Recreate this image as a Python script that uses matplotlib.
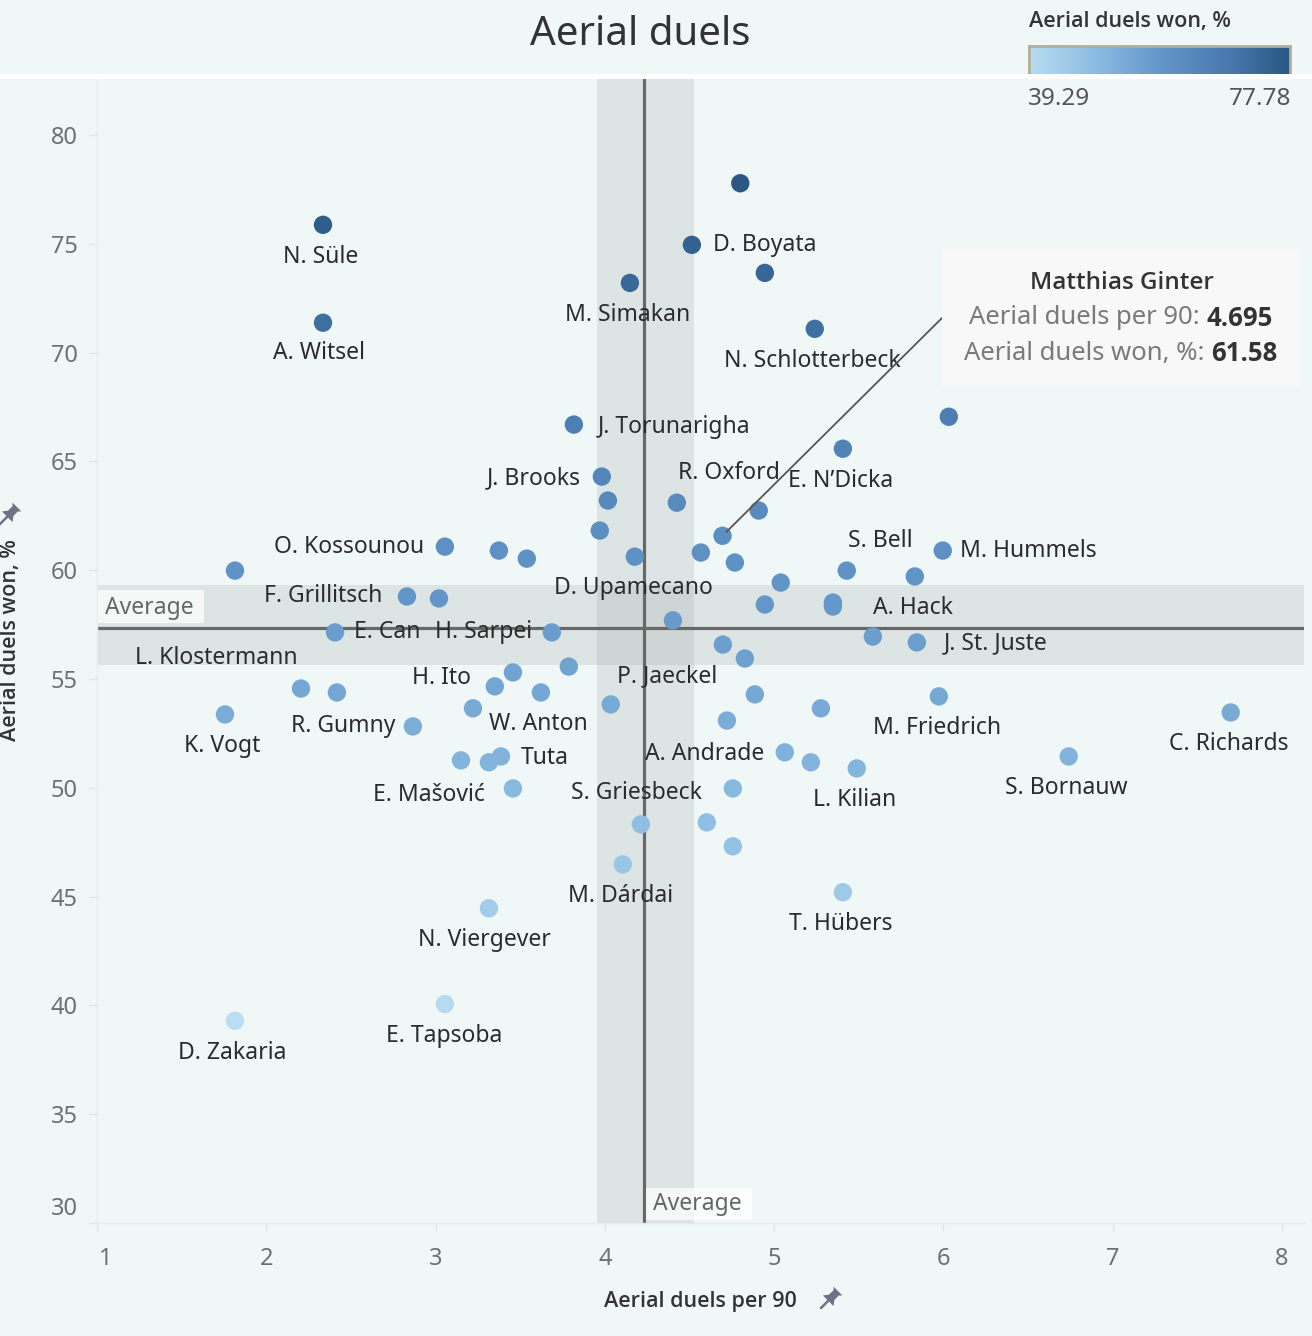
import matplotlib
matplotlib.use('Agg')
import matplotlib.pyplot as plt
import numpy as np
from matplotlib.colors import LinearSegmentedColormap, Normalize
from matplotlib.patches import Rectangle, Polygon
from matplotlib.transforms import ScaledTranslation

# ---------------- data ----------------
players = ['', 'N. Süle', 'D. Boyata', '', 'M. Simakan', 'A. Witsel', 'N. Schlotterbeck', '',
           'J. Torunarigha', 'E. N’Dicka', 'J. Brooks', '', '', 'R. Oxford', '', '',
           'O. Kossounou', '', '', 'D. Upamecano', '', 'M. Hummels', 'S. Bell', '', '', '', '',
           'F. Grillitsch', '', '', '', 'A. Hack', '', 'E. Can', 'H. Sarpei', '', 'J. St. Juste',
           '', '', '', '', 'H. Ito', 'L. Klostermann', '', 'W. Anton', '', 'M. Friedrich',
           'K. Vogt', 'P. Jaeckel', '', '', 'C. Richards', '', 'R. Gumny', 'A. Andrade',
           'S. Bornauw', 'Tuta', '', '', '', 'L. Kilian', '', 'E. Mašović', 'S. Griesbeck',
           '', '', 'M. Dárdai', 'T. Hübers', 'N. Viergever', 'E. Tapsoba', 'D. Zakaria']
duels_per90 = [4.80, 2.335, 4.514, 4.945, 4.148, 2.335, 5.240, 6.032,
               3.817, 5.406, 3.982, 4.018, 4.425, 4.909, 3.970, 4.695,
               3.055, 3.374, 3.539, 4.177, 4.567, 5.996, 5.429, 4.768, 1.815, 5.039, 5.831,
               2.831, 3.020, 4.402, 4.945, 5.347, 5.347, 2.406, 3.687, 5.583, 5.843,
               4.697, 4.827, 3.787, 3.457, 3.350, 2.205, 2.417, 3.622, 4.886, 5.973,
               1.756, 4.035, 3.221, 5.276, 7.697, 4.721, 2.866, 5.063,
               6.740, 3.386, 3.150, 3.315, 5.217, 5.488, 4.756, 3.457, 4.213,
               4.602, 4.756, 4.106, 5.406, 3.315, 3.055, 1.815]
duels_won_pct = [77.78, 75.87, 74.95, 73.66, 73.20, 71.37, 71.09, 67.05,
                 66.69, 65.58, 64.30, 63.20, 63.10, 62.74, 61.82, 61.58,
                 61.08, 60.90, 60.53, 60.62, 60.81, 60.90, 59.98, 60.35, 59.98, 59.43, 59.71,
                 58.79, 58.70, 57.69, 58.42, 58.51, 58.33, 57.14, 57.14, 56.95, 56.68,
                 56.58, 55.94, 55.57, 55.30, 54.66, 54.56, 54.38, 54.38, 54.29, 54.20,
                 53.37, 53.83, 53.65, 53.65, 53.46, 53.09, 52.82, 51.63,
                 51.44, 51.44, 51.26, 51.17, 51.17, 50.89, 49.97, 49.97, 48.32,
                 48.41, 47.31, 46.48, 45.20, 44.46, 40.06, 39.29]

avg_per90 = 4.23
avg_per90_band = (3.953, 4.526)
avg_won = 57.36
avg_won_band = (55.62, 59.34)

color_min, color_max = 39.29, 77.78
xticks = [1, 2, 3, 4, 5, 6, 7, 8]
yticks = [30, 35, 40, 45, 50, 55, 60, 65, 70, 75, 80]

tooltip_name = 'Matthias Ginter'
tooltip_x = 4.695
tooltip_y = 61.58

# label offsets (pixels, style only)
label_offsets = {
    'N. Süle': (-2, -32), 'D. Boyata': (73, 0), 'M. Simakan': (-2, -32), 'A. Witsel': (-4, -30),
    'N. Schlotterbeck': (-2, -32), 'J. Torunarigha': (100, -2), 'E. N’Dicka': (-2, -32),
    'J. Brooks': (-68, -2), 'R. Oxford': (-30, 38), 'O. Kossounou': (-96, 0),
    'D. Upamecano': (-1, -31), 'M. Hummels': (86, 0), 'S. Bell': (34, 30),
    'F. Grillitsch': (-84, 0), 'A. Hack': (80, -5), 'E. Can': (52, 0), 'H. Sarpei': (-68, 0),
    'J. St. Juste': (79, -1), 'H. Ito': (-53, 8), 'L. Klostermann': (-85, 31),
    'W. Anton': (-2, -32), 'M. Friedrich': (-2, -32), 'K. Vogt': (-3, -32),
    'P. Jaeckel': (56, 28), 'C. Richards': (-2, -32), 'R. Gumny': (-70, 0),
    'A. Andrade': (-80, -2), 'S. Bornauw': (-2, -32), 'Tuta': (44, -2), 'L. Kilian': (-2, -32),
    'E. Mašović': (-84, -7), 'S. Griesbeck': (-4, 31), 'M. Dárdai': (-2, -32),
    'T. Hübers': (-2, -32), 'N. Viergever': (-4, -32), 'E. Tapsoba': (-1, -32),
    'D. Zakaria': (-3, -32),
}

# ---------------- style ----------------
W, H = 1312, 1336
BG = '#f0f8f7'
FONT = ['Noto Sans', 'DejaVu Sans']
BOLD = ['Open Sans', 'Roboto', 'DejaVu Sans']
plt.rcParams['font.family'] = FONT

cmap = LinearSegmentedColormap.from_list(
    'tab_blue', ['#b9ddf1', '#8dbde2', '#6497c9', '#4a7bb0', '#2a5783'])
norm = Normalize(color_min, color_max)

fig = plt.figure(figsize=(W / 100, H / 100), dpi=100, facecolor=BG)


def fx(px):
    return px / W


def fy(py):
    return 1 - py / H


ax_l, ax_r, ax_t, ax_b = 97, 1304, 79, 1223
ax = fig.add_axes([fx(ax_l), fy(ax_b), (ax_r - ax_l) / W, (ax_b - ax_t) / H])
ax.set_facecolor(BG)
ax.set_xlim(1.0, 8.13)
ax.set_ylim(30, 82.57)

# reference bands and lines
band_kw = dict(color='#8c9694', alpha=0.19, lw=0, zorder=0)
ax.axvspan(*avg_per90_band, **band_kw)
ax.axhspan(*avg_won_band, **band_kw)
ax.axvline(avg_per90, color='#686868', lw=2.3, zorder=1)
ax.axhline(avg_won, color='#686868', lw=2.3, zorder=1)

# points
ax.scatter(duels_per90, duels_won_pct, c=duels_won_pct, cmap=cmap, norm=norm,
           s=175, linewidths=0, zorder=3)

for name, xv, yv in zip(players, duels_per90, duels_won_pct):
    if not name:
        continue
    dx, dy = label_offsets.get(name, (0, -32))
    ax.annotate(name, (xv, yv), xytext=(dx, dy), textcoords='offset pixels',
                ha='center', va='center', fontsize=16.5, color='#2b2b2b', zorder=4)

# axes styling
for side in ['top', 'right']:
    ax.spines[side].set_visible(False)
for side in ['left', 'bottom']:
    ax.spines[side].set_color('#e6ecec')
    ax.spines[side].set_linewidth(1)
ax.set_xticks(xticks)
ax.set_yticks(yticks)
ax.tick_params(axis='both', colors='#e2e6e6', length=6, width=1, labelsize=17,
               labelcolor='#707070')
ax.tick_params(axis='x', pad=11)
ax.tick_params(axis='y', pad=8)
fig.canvas.draw()
for lab in ax.get_yticklabels():
    if lab.get_text() == '30':
        lab.set_transform(lab.get_transform() + ScaledTranslation(0, 0.17, fig.dpi_scale_trans))
for lab in ax.get_xticklabels():
    if lab.get_text() == '1':
        lab.set_transform(lab.get_transform() + ScaledTranslation(0.09, 0, fig.dpi_scale_trans))

# axis titles
fig.text(fx(700), fy(1301), 'Aerial duels per 90', ha='center', va='center',
         fontsize=15.5, fontweight='semibold', color='#333333', family=BOLD)
fig.text(fx(11), fy(640), 'Aerial duels won, %', ha='center', va='center', rotation=90,
         fontsize=15.5, fontweight='semibold', color='#333333', family=BOLD)


def pin(cx, cy, size=1.0):
    pts = [(-6, -2), (6, -2), (3, 2), (3, 7), (5, 9), (-5, 9), (-3, 7), (-3, 2)]
    ang = np.deg2rad(-45)
    ca, sa = np.cos(ang), np.sin(ang)

    def tr(p):
        x, y = p[0] * size, p[1] * size
        return (fx(cx + x * ca - y * sa), 1 - (cy - (x * sa + y * ca)) / H)
    fig.patches.append(Polygon([tr(p) for p in pts], closed=True, transform=fig.transFigure,
                               facecolor='#6b7384', edgecolor='none'))
    a, b = tr((0, -2)), tr((0, -10))
    fig.add_artist(plt.Line2D([a[0], b[0]], [a[1], b[1]], transform=fig.transFigure,
                              color='#6b7384', lw=1.8))


pin(830, 1299, 1.25)
pin(9, 515, 1.25)

# title area
fig.text(fx(640), fy(35), 'Aerial duels', ha='center', va='center', fontsize=29,
         color='#333333', fontweight='light')
fig.add_artist(Rectangle((0, fy(79)), 1, 5 / H, transform=fig.transFigure,
                         facecolor='white', edgecolor='none', zorder=1))

# color legend
fig.text(fx(1130), fy(21), 'Aerial duels won, %', ha='center', va='center',
         fontsize=15.5, fontweight='semibold', color='#333333', family=BOLD)
cax = fig.add_axes([fx(1029), fy(75), (1290 - 1029) / W, (75 - 46) / H])
cax.imshow(np.linspace(0, 1, 256).reshape(1, -1), aspect='auto', cmap=cmap,
           extent=(0, 1, 0, 1))
cax.set_xticks([])
cax.set_yticks([])
for s in cax.spines.values():
    s.set_color('#b3ad9d')
    s.set_linewidth(2)
fig.text(fx(1028), fy(99), f'{color_min:.2f}', ha='left', va='center', fontsize=17.5,
         color='#555555')
fig.text(fx(1291), fy(99), f'{color_max:.2f}', ha='right', va='center', fontsize=17.5,
         color='#555555')

# "Average" labels
fig.add_artist(Rectangle((fx(98), fy(623)), 106 / W, 33 / H, transform=fig.transFigure,
                         facecolor='white', alpha=0.75, edgecolor='none'))
fig.text(fx(149), fy(608), 'Average', ha='center', va='center', fontsize=16.5, color='#666666')
fig.add_artist(Rectangle((fx(646), fy(1220)), 106 / W, 32 / H, transform=fig.transFigure,
                         facecolor='white', alpha=0.75, edgecolor='none'))
fig.text(fx(697), fy(1204), 'Average', ha='center', va='center', fontsize=16.5, color='#666666')

# tooltip
ax.annotate('', xy=(tooltip_x, tooltip_y), xycoords='data',
            xytext=(fx(942), fy(318)), textcoords='figure fraction',
            arrowprops=dict(arrowstyle='-', color='#555555', lw=1.3, shrinkA=0, shrinkB=4),
            zorder=5)
fig.add_artist(Rectangle((fx(942), fy(386)), (1300 - 942) / W, (386 - 249) / H,
                         transform=fig.transFigure, facecolor='#f8f8f8', edgecolor='none',
                         zorder=6))
fig.text(fx(1122), fy(283), tooltip_name, ha='center', va='center', fontsize=17.5,
         fontweight='semibold', color='#333333', zorder=7, family=BOLD)

renderer = fig.canvas.get_renderer()
for py, lab, val in [(318, 'Aerial duels per 90: ', f'{tooltip_x:.3f}'),
                     (353, 'Aerial duels won, %: ', f'{tooltip_y:.2f}')]:
    t1 = fig.text(0, fy(py), lab, ha='left', va='center', fontsize=18.5, color='#7a7a7a', zorder=7)
    t2 = fig.text(0, fy(py), val, ha='left', va='center', fontsize=18.5, fontweight='bold',
                  color='#333333', zorder=7, family=BOLD)
    w1 = t1.get_window_extent(renderer).width
    w2 = t2.get_window_extent(renderer).width
    x0 = 1121 - (w1 + w2) / 2
    t1.set_x(fx(x0))
    t2.set_x(fx(x0 + w1))

fig.savefig('out.png', dpi=100, facecolor=BG)
